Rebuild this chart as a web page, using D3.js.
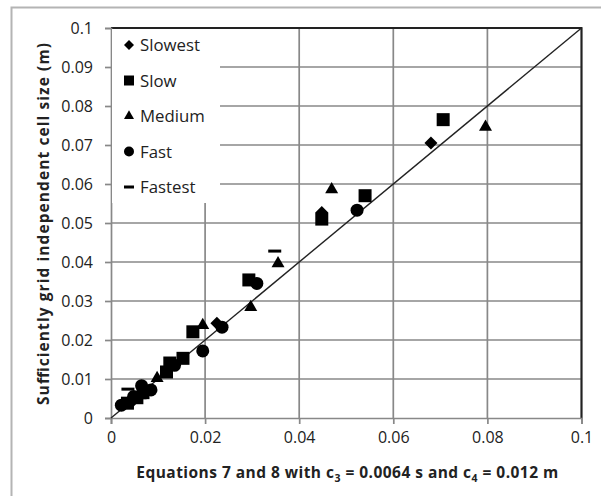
<!DOCTYPE html>
<html>
<head>
<meta charset="utf-8">
<script src="https://cdnjs.cloudflare.com/ajax/libs/d3/7.8.5/d3.min.js"></script>
<style>
  html, body { margin: 0; padding: 0; background: #fff; }
  svg { display: block; font-family: "Open Sans", "Noto Sans", sans-serif; }
</style>
</head>
<body>
<svg id="chart" width="601" height="496"></svg>
<script>
// ---- data ----
const seriesNames = ["Slowest", "Slow", "Medium", "Fast", "Fastest"];
const slowest = [[0.0045,0.0042],[0.0075,0.0072],[0.0125,0.0132],[0.0225,0.0243],[0.0448,0.0527],[0.0680,0.0705]];
const slow    = [[0.0035,0.0038],[0.0055,0.0052],[0.0068,0.0065],[0.0118,0.0118],[0.0125,0.0141],[0.0153,0.0153],[0.0174,0.0221],[0.0293,0.0354],[0.0448,0.0510],[0.0540,0.0570],[0.0706,0.0765]];
const medium  = [[0.0062,0.0058],[0.0098,0.0102],[0.0195,0.0238],[0.0297,0.0284],[0.0355,0.0396],[0.0469,0.0586],[0.0796,0.0746]];
const fast    = [[0.0022,0.0033],[0.0048,0.0055],[0.0065,0.0083],[0.0085,0.0072],[0.0135,0.0135],[0.0195,0.0172],[0.0236,0.0233],[0.0310,0.0345],[0.0523,0.0533]];
const fastest = [[0.0036,0.0074],[0.0348,0.0428]];
const xTicks = [0, 0.02, 0.04, 0.06, 0.08, 0.1];
const yTicks = [0, 0.01, 0.02, 0.03, 0.04, 0.05, 0.06, 0.07, 0.08, 0.09, 0.1];
const lineOfEquality = [[0,0],[0.1,0.1]];

// ---- layout ----
const svg = d3.select("#chart");
const L = 111, R = 581.5, T = 28, B = 418;
const x = d3.scaleLinear().domain([0, 0.1]).range([L, R]);
const y = d3.scaleLinear().domain([0, 0.1]).range([B, T]);
const gridCol = "#888";

// outer border
svg.append("rect").attr("x", 11.5).attr("y", 7.5).attr("width", 620).attr("height", 520)
  .attr("fill", "#fff").attr("stroke", "#b4b4b4").attr("stroke-width", 2);

// gridlines
svg.append("g").selectAll("line").data(yTicks.slice(1)).join("line")
  .attr("x1", L).attr("x2", R).attr("y1", d => y(d)).attr("y2", d => y(d))
  .attr("stroke", gridCol).attr("stroke-width", 1.7);
svg.append("g").selectAll("line").data(xTicks.slice(1)).join("line")
  .attr("y1", T).attr("y2", B).attr("x1", d => x(d)).attr("x2", d => x(d))
  .attr("stroke", gridCol).attr("stroke-width", 1.7);

// plot border top/right
svg.append("path").attr("d", `M${L},${T}H${R}V${B}`).attr("fill", "none")
  .attr("stroke", "#222").attr("stroke-width", 2);

// axes
const fmt = d => d === 0 ? "0" : String(+d.toFixed(3));
const xAxis = d3.axisBottom(x).tickValues(xTicks).tickSize(6).tickPadding(8).tickFormat(fmt);
const yAxis = d3.axisLeft(y).tickValues(yTicks).tickSize(6).tickPadding(12).tickFormat(fmt);
const gx = svg.append("g").attr("transform", `translate(0,${B})`).call(xAxis);
const gy = svg.append("g").attr("transform", `translate(${L},0)`).call(yAxis);
[gx, gy].forEach(g => {
  g.select(".domain").attr("stroke", gridCol).attr("stroke-width", 1.7);
  g.selectAll(".tick line").attr("stroke", gridCol).attr("stroke-width", 1.7);
  g.selectAll("text").attr("fill", "#222").style("font-size", "16px").style("font-family", "'Open Sans', sans-serif");
});

// legend box (white, no border)
svg.append("rect").attr("x", L + 1).attr("y", T + 1).attr("width", 108).attr("height", 174).attr("fill", "#fff");

// line of equality
svg.append("path").datum(lineOfEquality)
  .attr("d", d3.line().x(d => x(d[0])).y(d => y(d[1])))
  .attr("stroke", "#222").attr("stroke-width", 1.4).attr("fill", "none");

// marker generators
function marker(g, type, cx, cy, s) {
  if (type === "Slowest") {
    g.append("path").attr("d", d3.symbol().type(d3.symbolSquare).size(s * s * 0.5)())
      .attr("transform", `translate(${cx},${cy}) rotate(45)`).attr("fill", "#000");
  } else if (type === "Slow") {
    g.append("path").attr("d", d3.symbol().type(d3.symbolSquare).size(s * s)())
      .attr("transform", `translate(${cx},${cy})`).attr("fill", "#000");
  } else if (type === "Medium") {
    g.append("path").attr("d", d3.symbol().type(d3.symbolTriangle).size(Math.sqrt(3) / 4 * s * s)())
      .attr("transform", `translate(${cx},${cy})`).attr("fill", "#000");
  } else if (type === "Fast") {
    g.append("path").attr("d", d3.symbol().type(d3.symbolCircle).size(Math.PI * s * s / 4)())
      .attr("transform", `translate(${cx},${cy})`).attr("fill", "#000");
  } else {
    g.append("rect").attr("x", cx - s / 2).attr("y", cy - 1.5).attr("width", s).attr("height", 3).attr("fill", "#000");
  }
}

const allSeries = [slowest, slow, medium, fast, fastest];
const pts = svg.append("g");
allSeries.forEach((arr, i) => {
  arr.forEach(d => marker(pts, seriesNames[i], x(d[0]), y(d[1]), 13));
});

// legend
const leg = svg.append("g");
seriesNames.forEach((n, i) => {
  const cy = 45 + i * 35.5;
  marker(leg, n, 129, cy, 10);
  leg.append("text").attr("x", 140).attr("y", cy + 6).text(n)
    .attr("fill", "#222").style("font-size", "16.8px");
});

// axis titles
svg.append("text").attr("transform", `translate(49,${(T + B) / 2 + 1}) rotate(-90)`)
  .attr("text-anchor", "middle").style("font-size", "15.5px").style("font-weight", "bold").attr("fill", "#222")
  .attr("textLength", 362).attr("lengthAdjust", "spacing")
  .text("Sufficiently grid independent cell size (m)");

const xt = svg.append("text").attr("x", (L + R) / 2 + 1).attr("y", 478)
  .attr("text-anchor", "middle").style("font-size", "15.5px").style("font-weight", "bold").attr("fill", "#222")
  .attr("textLength", 422).attr("lengthAdjust", "spacing");
xt.append("tspan").text("Equations 7 and 8 with c");
xt.append("tspan").text("3").attr("dy", 4).style("font-size", "10.5px");
xt.append("tspan").text(" = 0.0064 s and c").attr("dy", -4);
xt.append("tspan").text("4").attr("dy", 4).style("font-size", "10.5px");
xt.append("tspan").text(" = 0.012 m").attr("dy", -4);
</script>
</body>
</html>
